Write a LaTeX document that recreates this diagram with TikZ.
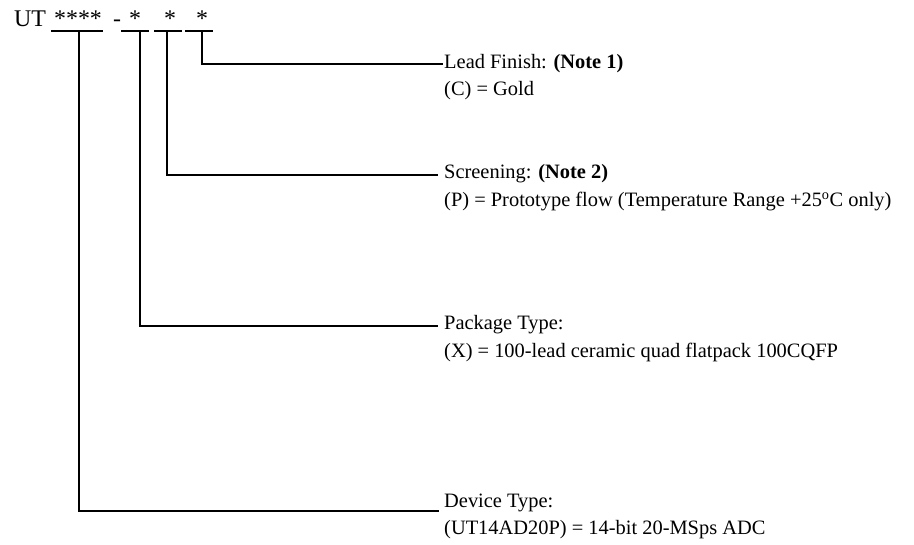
\documentclass[tikz,border=0pt]{standalone}
\usepackage{fontspec}
\setmainfont{Liberation Serif}
\tikzset{
  conn/.style={line width=2bp},
  lbl/.style={anchor=base west, inner sep=0pt, font=\fontsize{20.5}{27}\selectfont},
  code/.style={anchor=base, inner sep=0pt, font=\fontsize{24}{28}\selectfont},
}
\begin{document}
\begin{tikzpicture}[x=1bp,y=-1bp]
  \useasboundingbox (0,0) rectangle (914,545);
  \node[code,anchor=base west] (ut) at (14,27) {UT};
  \node[code] (devcode) at (78,27) {****};
  \node[code] (dash) at (117,27) {-};
  \node[code] (pkgcode) at (135,27) {*};
  \node[code] (scrcode) at (170,27) {*};
  \node[code] (fincode) at (202,27) {*};
  \draw[conn] (51,31) -- (103,31) (121,31) -- (149,31) (154,31) -- (182,31) (185,31) -- (213,31);
  \coordinate (u1) at (79,31);
  \coordinate (u2) at (140,31);
  \coordinate (u3) at (167,31);
  \coordinate (u4) at (202,31);
  \coordinate (e1) at (439,511);
  \coordinate (e2) at (438,326);
  \coordinate (e3) at (438,175);
  \coordinate (e4) at (443,64);
  \node[lbl] (fin) at (444,69) {Lead Finish: \textbf{(Note 1)}};
  \node[lbl] (finval) at ([yshift=-27bp]fin.base west) {(C) = Gold};
  \node[lbl] (scr) at (444,179) {Screening: \textbf{(Note 2)}};
  \node[lbl] (scrval) at ([yshift=-28bp]scr.base west) {(P) = Prototype flow (Temperature Range +25\textsuperscript{o}C only)};
  \node[lbl] (pkg) at (444,330) {Package Type:};
  \node[lbl] (pkgval) at ([yshift=-27bp]pkg.base west) {(X) = 100-lead ceramic quad flatpack 100CQFP};
  \node[lbl] (dev) at (444,507) {Device Type:};
  \node[lbl] (devval) at ([yshift=-27bp]dev.base west) {(UT14AD20P) = 14-bit 20-MSps ADC};
  \draw[conn] (u1) |- (e1);
  \draw[conn] (u2) |- (e2);
  \draw[conn] (u3) |- (e3);
  \draw[conn] (u4) |- (e4);
\end{tikzpicture}
\end{document}
